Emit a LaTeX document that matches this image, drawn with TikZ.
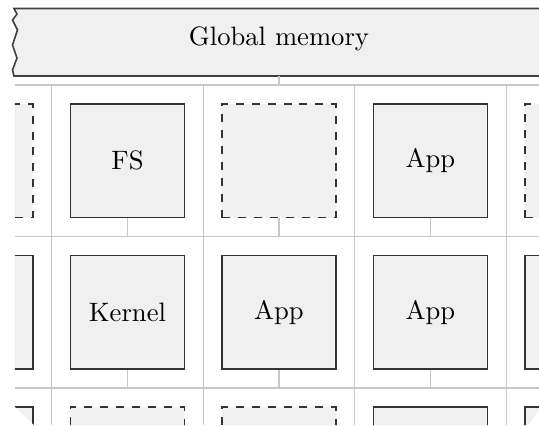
\documentclass[tikz,border=0pt]{standalone}
\begin{document}
\begin{tikzpicture}[x=0.0132cm,y=-0.0132cm,
  gridline/.style={draw=black!22,line width=0.4pt},
  link/.style={draw=black!22,line width=0.4pt},
  unit/.style={draw=black!80,fill=black!6,line width=0.6pt,minimum width=1.5cm,minimum height=1.5cm,inner sep=0pt},
  idle/.style={unit,dashed},
  banner/.style={draw=black!75,fill=black!6,line width=0.6pt}]
\clip (0,0) rectangle (539,425);
\begin{scope}
\clip (15,0) -- (545,0) -- (545,400) -- (529,425) -- (34,425) -- (15,407) -- cycle;
% grid
\coordinate (h1) at (15,85);
\coordinate (h2) at (15,236.5);
\coordinate (h3) at (15,388);
\foreach \yy in {85,236.5,388} \draw[gridline] (15,\yy) -- (545,\yy);
\foreach \xx in {51.7,203.2,354.7,506.2} \draw[gridline] (\xx,85) -- (\xx,430);
% row 1
\node[idle] (b10) at (-24,160.75) {};
\node[unit] (b11) at (127.5,160.75) {FS};
\node[idle] (b12) at (279,160.75) {};
\node[unit] (b13) at (430.5,160.75) {App};
\node[idle] (b14) at (582,160.75) {};
% row 2
\node[unit] (b20) at (-24,312.25) {};
\node[unit] (b21) at (127.5,312.25) {Kernel};
\node[unit] (b22) at (279,312.25) {App};
\node[unit] (b23) at (430.5,312.25) {App};
\node[unit] (b24) at (582,312.25) {};
% row 3
\node[unit] (b30) at (-24,463.75) {};
\node[idle] (b31) at (127.5,463.75) {};
\node[idle] (b32) at (279,463.75) {};
\node[unit] (b33) at (430.5,463.75) {};
\node[unit] (b34) at (582,463.75) {};
% links
\foreach \b in {b11,b12,b13} \draw[link] (\b.south) -- (\b.south |- h2);
\foreach \b in {b21,b22,b23} \draw[link] (\b.south) -- (\b.south |- h3);
\end{scope}
% banner
\path[banner] (14,8.5) -- (560,8.5) -- (560,76) -- (14,76)
  -- (12.5,70) -- (17,58) -- (12.5,45) -- (17.5,30) -- (12.5,20) -- (17,14) -- cycle;
\node (gm) at (279,39) {Global memory};
\coordinate (gmb) at (279,76);
\draw[link] (gmb) -- (gmb |- h1);
\end{tikzpicture}
\end{document}
